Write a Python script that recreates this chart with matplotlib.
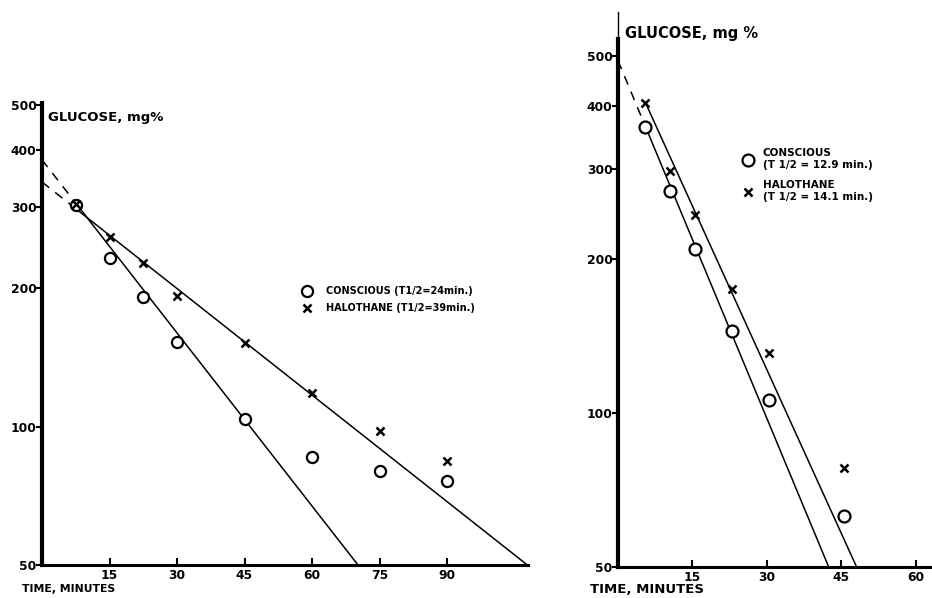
import numpy as np
import matplotlib
matplotlib.use('Agg')
import matplotlib.pyplot as plt

plt.rcParams['font.family'] = ['DejaVu Sans']
plt.rcParams['font.weight'] = 'bold'

# left panel: glucose decay, times in minutes
left_t = [7.5, 15, 22.5, 30, 45, 60, 75, 90]
left_conscious = [303, 232, 191, 153, 104, 86, 80, 76]
left_halothane = [305, 258, 227, 192, 152, 118, 98, 84]
left_fit_conscious = (380, 24)   # intercept mg%, half-life min
left_fit_halothane = (340, 39)

# right panel
right_t = [5.5, 10.5, 15.5, 23, 30.5, 45.5]
right_conscious = [363, 272, 210, 145, 106, 63]
right_halothane = [404, 298, 244, 175, 131, 78]
right_fit_conscious = (490, 12.9)
right_fit_halothane = (532, 14.1)

yticks = [50, 100, 200, 300, 400, 500]
left_xticks = [15, 30, 45, 60, 75, 90]
right_xticks = [15, 30, 45, 60]

W, H = 932, 598
fig = plt.figure(figsize=(W / 100, H / 100), dpi=100)


def px_axes(x0, x1, ytop, ybot):
    return fig.add_axes([x0 / W, (H - ybot) / H, (x1 - x0) / W, (ybot - ytop) / H])


def fit_line(ax, fit, t_first, dashed=True):
    c0, half = fit
    t_end = half * np.log2(c0 / 50.0)
    ts = np.linspace(t_first, t_end, 50)
    ax.plot(ts, c0 * 2 ** (-ts / half), color='black', lw=1.1, zorder=2)
    if dashed:
        td = np.linspace(0, t_first, 20)
        ax.plot(td, c0 * 2 ** (-td / half), color='black', lw=1.1,
                dashes=(6, 5), zorder=2)


def style(ax, xmax, ymax, xticks, fs):
    ax.set_yscale('log')
    ax.set_xlim(0, xmax)
    ax.set_ylim(50, ymax)
    for s in ['top', 'right']:
        ax.spines[s].set_visible(False)
    ax.spines['left'].set_linewidth(3.0)
    ax.spines['bottom'].set_linewidth(2.2)
    ax.set_yticks(yticks)
    ax.set_yticklabels([str(v) for v in yticks])
    ax.yaxis.set_minor_locator(matplotlib.ticker.NullLocator())
    ax.set_xticks(xticks)
    ax.set_xticklabels([str(v) for v in xticks])
    ax.tick_params(axis='y', direction='out', length=4, width=1.5, pad=0,
                   labelsize=fs)
    ax.tick_params(axis='x', direction='in', length=5, width=1.5, pad=3,
                   labelsize=fs)


# ---- left panel
ax1 = px_axes(42, 528, 103, 565)
style(ax1, 108, 505, left_xticks, 8.8)
fit_line(ax1, left_fit_conscious, left_t[0])
fit_line(ax1, left_fit_halothane, left_t[0])
ax1.plot(left_t, left_conscious, 'o', ms=8, mfc='white', mec='black', mew=1.6,
         zorder=3, label='CONSCIOUS (T1/2=24min.)')
ax1.plot(left_t, left_halothane, 'x', ms=6, color='black', mew=1.8,
         zorder=4, label='HALOTHANE (T1/2=39min.)')
ax1.legend(loc='center left', bbox_to_anchor=(0.535, 0.574), frameon=False,
           fontsize=7, borderpad=0, borderaxespad=0, handlelength=1,
           handletextpad=1.5, labelspacing=0.7)
ax1.text(0.012, 0.968, 'GLUCOSE, mg%', transform=ax1.transAxes,
         fontsize=9.5, va='center', ha='left')
ax1.text(-0.041, -0.052, 'TIME, MINUTES', transform=ax1.transAxes,
         fontsize=7.8, va='center', ha='left', clip_on=False)

# ---- right panel
ax2 = px_axes(618, 932, 12, 567)
style(ax2, 63.3, 610, right_xticks, 8.8)
# thick axis stops a little above 500, thin stub continues up
ax2.spines['left'].set_bounds(50, 540)
ax2.axvline(0, ymin=0.955, ymax=1.0, color='black', lw=1.0, clip_on=False)
fit_line(ax2, right_fit_conscious, right_t[0])
fit_line(ax2, right_fit_halothane, right_t[0], dashed=False)
ax2.plot(right_t, right_conscious, 'o', ms=8.6, mfc='white', mec='black',
         mew=1.6, zorder=3, label='CONSCIOUS\n(T 1/2 = 12.9 min.)')
ax2.plot(right_t, right_halothane, 'x', ms=6, color='black', mew=1.8,
         zorder=4, label='HALOTHANE\n(T 1/2 = 14.1 min.)')
ax2.legend(loc='center left', bbox_to_anchor=(0.398, 0.706), frameon=False,
           fontsize=7.5, borderpad=0, borderaxespad=0, handlelength=1,
           handletextpad=0.9, labelspacing=1.0)
ax2.text(0.022, 0.962, 'GLUCOSE, mg %', transform=ax2.transAxes,
         fontsize=10.5, va='center', ha='left')
ax2.text(-0.09, -0.041, 'TIME, MINUTES', transform=ax2.transAxes,
         fontsize=9.5, va='center', ha='left', clip_on=False)

fig.savefig('out.png', dpi=100, facecolor='white')
